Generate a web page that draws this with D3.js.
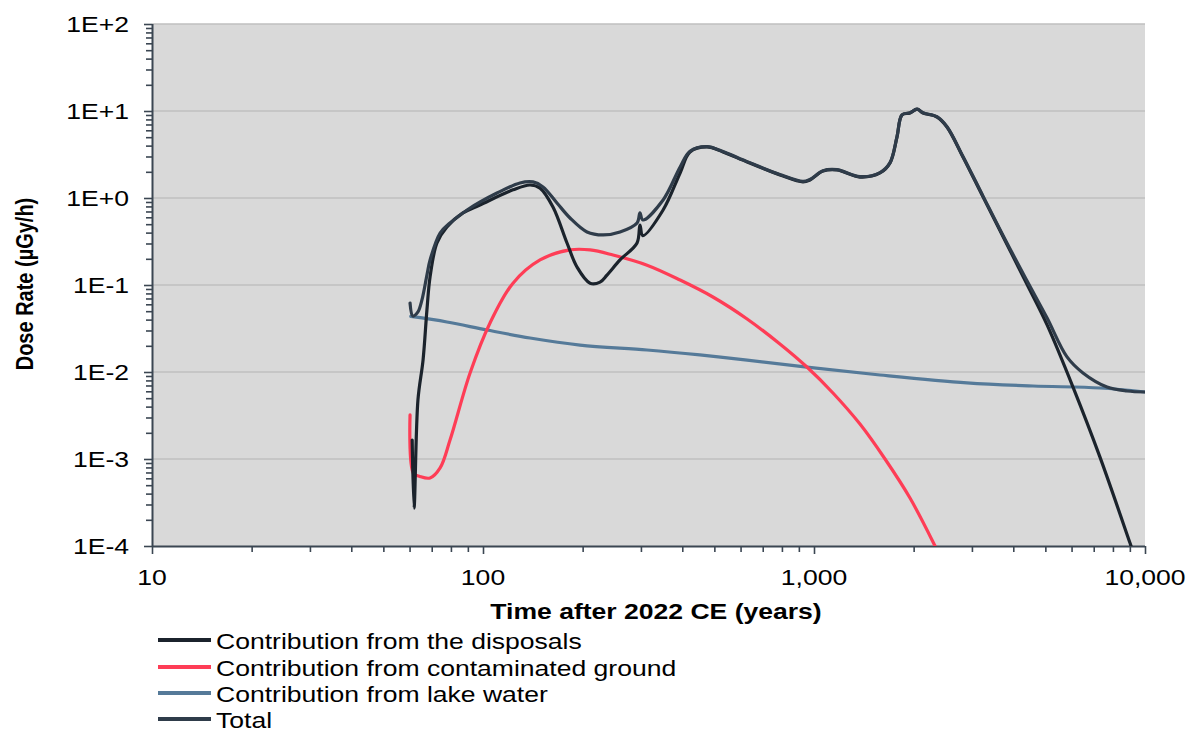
<!DOCTYPE html>
<html>
<head>
<meta charset="utf-8">
<script src="https://cdn.jsdelivr.net/npm/d3@7/dist/d3.min.js"></script>
<style>
  html, body { margin: 0; padding: 0; background: #ffffff; }
  svg { display: block; font-family: "Liberation Sans", Arial, sans-serif; }
</style>
</head>
<body>
<svg id="chart" width="1197" height="731"></svg>
<script>
// ---------------- data ----------------
const yTickValues = [1e-4, 1e-3, 1e-2, 1e-1, 1e0, 1e1, 1e2];
const yTickLabels = ["1E-4", "1E-3", "1E-2", "1E-1", "1E+0", "1E+1", "1E+2"];
const xTickValues = [10, 100, 1000, 10000];
const xTickLabels = ["10", "100", "1,000", "10,000"];

const seriesNames = [
  "Contribution from the disposals",
  "Contribution from contaminated ground",
  "Contribution from lake water",
  "Total"
];

const disposalsTime = [61.1, 61.9, 63.6, 65.9, 67.7, 69.2, 72.6, 77.8, 87.0, 97.9, 123.2, 138.7, 148.7, 162.7, 179.4, 192.3, 210.6, 225.7, 236.9, 259.4, 292, 298, 304, 350, 394, 422, 475, 531, 628, 789, 926, 972, 1065, 1173, 1377, 1583, 1697, 1781, 1845, 1950, 2048, 2135, 2353, 2522, 2819, 3241, 3776, 4400, 5057, 6061, 7311, 9010, 9500];
const disposalsDose = [0.00165, 0.000273, 0.00477, 0.0137, 0.0516, 0.124, 0.304, 0.464, 0.673, 0.831, 1.24, 1.41, 1.30, 0.788, 0.304, 0.161, 0.105, 0.108, 0.130, 0.194, 0.304, 0.489, 0.37, 0.728, 1.94, 3.38, 3.86, 3.38, 2.59, 1.84, 1.53, 1.61, 2.04, 2.10, 1.74, 1.94, 2.53, 5.02, 9.0, 9.49, 10.5, 9.49, 8.53, 6.55, 2.96, 1.03, 0.325, 0.102, 0.035, 0.0067, 0.00105, 0.000108, 0.00006];

const groundTime = [60.2, 61.6, 64.5, 69.2, 74.2, 79.5, 91.4, 105, 123.2, 148.7, 183.2, 210.6, 247, 313, 394, 495, 628, 789, 952, 1141, 1377, 1639, 1950, 2321, 2761];
const groundDose = [0.00321, 0.00069, 0.00063, 0.000605, 0.00079, 0.00165, 0.00975, 0.0366, 0.105, 0.194, 0.253, 0.253, 0.221, 0.169, 0.114, 0.0728, 0.0407, 0.021, 0.0114, 0.00574, 0.00252, 0.001, 0.000356, 0.0001, 0.0000252];

const lakeTime = [60.5, 77.8, 102.8, 138.7, 196.4, 313, 452, 628, 952, 1583, 2899, 4587, 7311, 10000];
const lakeDose = [0.0435, 0.0376, 0.0304, 0.0246, 0.0204, 0.0179, 0.0157, 0.0137, 0.0114, 0.00924, 0.00748, 0.0069, 0.00655, 0.00589];

const totalTime = [60.2, 61.4, 63.6, 65.4, 67.7, 69.2, 74.2, 79.5, 89.5, 110.2, 129.3, 141.6, 151.8, 167.3, 183.2, 206.2, 230.4, 259.4, 292, 298, 304, 350, 394, 422, 475, 531, 628, 789, 926, 972, 1065, 1173, 1377, 1583, 1697, 1781, 1845, 1950, 2048, 2135, 2353, 2522, 2819, 3241, 3776, 4400, 5057, 5813, 6495, 7677, 8822, 10000];
const totalDose = [0.0621, 0.044, 0.049, 0.0673, 0.13, 0.194, 0.396, 0.516, 0.728, 1.14, 1.49, 1.53, 1.34, 0.876, 0.589, 0.407, 0.376, 0.407, 0.516, 0.673, 0.559, 0.949, 2.27, 3.45, 3.9, 3.42, 2.62, 1.86, 1.55, 1.63, 2.06, 2.12, 1.76, 1.96, 2.55, 5.05, 9.05, 9.55, 10.5, 9.55, 8.6, 6.6, 3.0, 1.05, 0.335, 0.112, 0.042, 0.0149, 0.00975, 0.00672, 0.00605, 0.00589];

// ---------------- layout ----------------
const plot = { left: 152, right: 1145, top: 24, bottom: 546 };
const SX = 1.18; // horizontal text stretch of original
const FONT = 22.5;
const axisColor = "#3b4652";
const colors = ["#1b232c", "#fe3d56", "#557a99", "#2f3c4a"];

const svg = d3.select("#chart");
const x = d3.scaleLog().domain([10, 10000]).range([plot.left, plot.right]);
const y = d3.scaleLog().domain([1e-4, 1e2]).range([plot.bottom, plot.top]);

function stext(g, px, py, str, opts) {
  const o = Object.assign({ size: FONT, weight: "normal", anchor: "start", sx: SX, rotate: 0 }, opts || {});
  return g.append("text")
    .attr("transform", `translate(${px},${py}) scale(${o.sx},1)` + (o.rotate ? ` rotate(${o.rotate})` : ""))
    .attr("text-anchor", o.anchor)
    .attr("font-size", o.size)
    .attr("font-weight", o.weight)
    .attr("fill", "#000")
    .text(str);
}

// plot background
svg.append("rect")
  .attr("x", plot.left).attr("y", plot.top)
  .attr("width", plot.right - plot.left).attr("height", plot.bottom - plot.top)
  .attr("fill", "#d9d9d9");

// gridlines
svg.append("g").selectAll("line").data(yTickValues.filter(v => v > 1e-4)).join("line")
  .attr("x1", plot.left).attr("x2", plot.right)
  .attr("y1", d => y(d)).attr("y2", d => y(d))
  .attr("stroke", "#bfbfbf").attr("stroke-width", 1.5);

// minor tick values
const yMinor = [];
for (let e = -4; e < 2; e++) for (let k = 2; k <= 9; k++) yMinor.push(k * Math.pow(10, e));
const xMinor = [];
for (let e = 1; e < 4; e++) for (let k = 2; k <= 9; k++) xMinor.push(k * Math.pow(10, e));

// axes
const yAxisMinor = svg.append("g").attr("transform", `translate(${plot.left},0)`)
  .call(d3.axisLeft(y).tickValues(yMinor).tickSize(6).tickFormat(""));
const yAxisMajor = svg.append("g").attr("transform", `translate(${plot.left},0)`)
  .call(d3.axisLeft(y).tickValues(yTickValues).tickSize(8).tickFormat(""));
const xAxisMinor = svg.append("g").attr("transform", `translate(0,${plot.bottom})`)
  .call(d3.axisBottom(x).tickValues(xMinor).tickSize(6).tickFormat(""));
const xAxisMajor = svg.append("g").attr("transform", `translate(0,${plot.bottom})`)
  .call(d3.axisBottom(x).tickValues(xTickValues).tickSize(8).tickFormat(""));
[yAxisMinor, yAxisMajor, xAxisMinor, xAxisMajor].forEach(g => {
  g.selectAll("path.domain").attr("stroke", axisColor).attr("stroke-width", 2);
  g.selectAll(".tick line").attr("stroke", axisColor).attr("stroke-width", 1.6);
});
yAxisMinor.select("path.domain").remove();
xAxisMinor.select("path.domain").remove();
yAxisMajor.select("path.domain").attr("d", `M0.5,${plot.top}V${plot.bottom}`);
xAxisMajor.select("path.domain").attr("d", `M${plot.left},0.5H${plot.right}`);

// tick labels
const labG = svg.append("g");
yTickValues.forEach((v, i) => stext(labG, 129, y(v) + 8, yTickLabels[i], { anchor: "end" }));
xTickValues.forEach((v, i) => stext(labG, x(v), 585, xTickLabels[i], { anchor: "middle" }));

// axis titles
stext(labG, 656, 619, "Time after 2022 CE (years)", { anchor: "middle", weight: "bold" });
stext(labG, 33, 284, "Dose Rate (µGy/h)", { anchor: "middle", weight: "bold", size: 20, rotate: -90 });

// clip
svg.append("clipPath").attr("id", "clip").append("rect")
  .attr("x", plot.left).attr("y", plot.top)
  .attr("width", plot.right - plot.left).attr("height", plot.bottom - plot.top);

const line = d3.line().x(d => x(d[0])).y(d => y(d[1])).curve(d3.curveCatmullRom.alpha(0.5));
const zip = (a, b) => a.map((t, i) => [t, b[i]]);
const series = [
  { data: zip(disposalsTime, disposalsDose), color: colors[0] },
  { data: zip(groundTime, groundDose), color: colors[1] },
  { data: zip(lakeTime, lakeDose), color: colors[2] },
  { data: zip(totalTime, totalDose), color: colors[3] }
];
const drawOrder = [2, 1, 0, 3];
const lg = svg.append("g").attr("clip-path", "url(#clip)");
drawOrder.forEach(i => {
  lg.append("path").attr("d", line(series[i].data))
    .attr("fill", "none").attr("stroke", series[i].color)
    .attr("stroke-width", 3.2).attr("stroke-linejoin", "round").attr("stroke-linecap", "round");
});

// legend
const legY = [640, 667, 693, 719];
const legG = svg.append("g");
seriesNames.forEach((name, i) => {
  legG.append("line").attr("x1", 158).attr("x2", 211).attr("y1", legY[i]).attr("y2", legY[i])
    .attr("stroke", colors[i]).attr("stroke-width", 4);
  stext(legG, 216, legY[i] + 8.5, name);
});
</script>
</body>
</html>
